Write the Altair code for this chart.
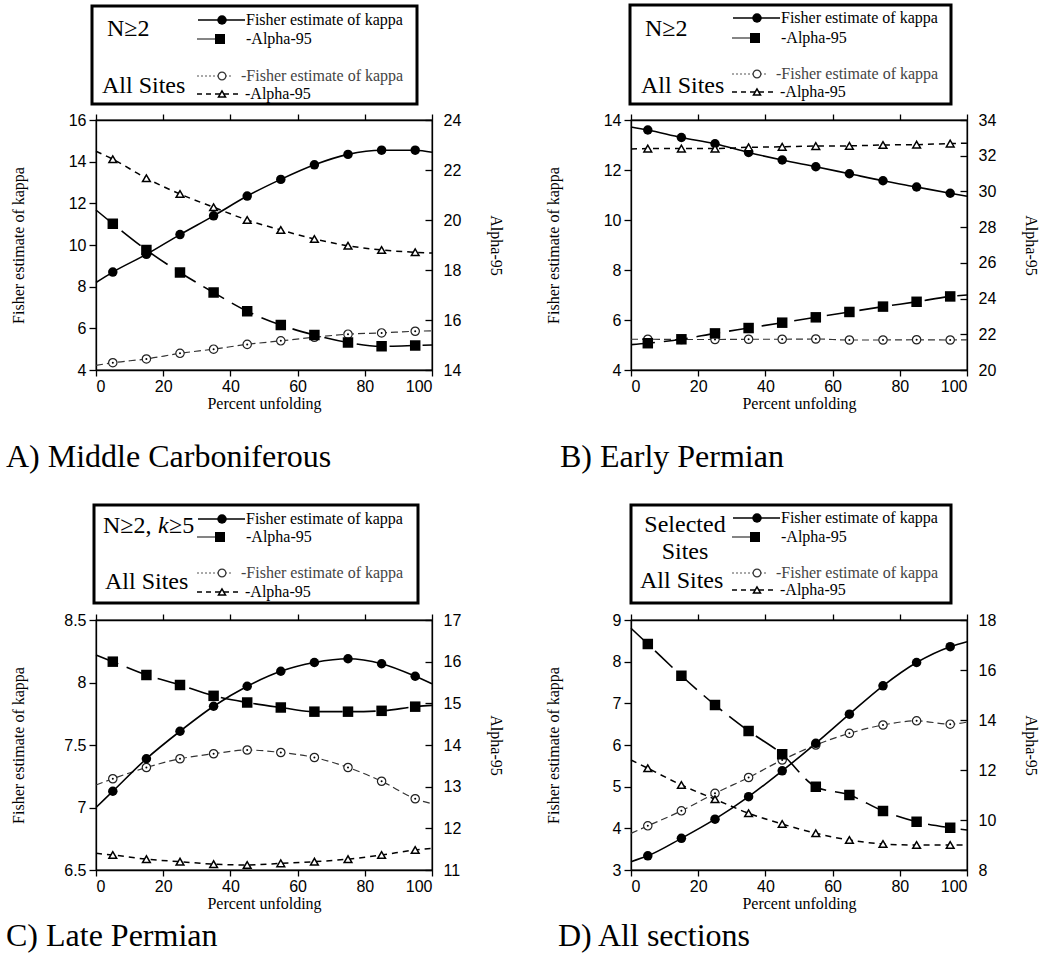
import altair as alt
import pandas as pd

SERIF = "Liberation Serif"
SANS = "Liberation Sans"
W, H = 336, 250

# x positions of the markers and of the line ends
X_PTS = [5, 15, 25, 35, 45, 55, 65, 75, 85, 95]
X_LINE = [0] + X_PTS + [100]
X_TICKS = [0, 20, 40, 60, 80, 100]

# ---- A) Middle Carboniferous ----
A_FISHER_SEL = [8.7, 9.55, 10.5, 11.4, 12.35, 13.15, 13.85, 14.35, 14.55, 14.55]
A_FISHER_SEL_ENDS = [8.2, 14.45]
A_ALPHA_SEL = [19.85, 18.8, 17.9, 17.1, 16.35, 15.8, 15.4, 15.1, 14.95, 14.98]
A_ALPHA_SEL_ENDS = [20.4, 15.0]
A_FISHER_ALL = [4.35, 4.53, 4.8, 5.0, 5.23, 5.4, 5.57, 5.72, 5.78, 5.86]
A_FISHER_ALL_ENDS = [4.22, 5.88]
A_ALPHA_ALL = [22.43, 21.67, 21.04, 20.51, 20.0, 19.6, 19.24, 18.97, 18.8, 18.71]
A_ALPHA_ALL_ENDS = [22.75, 18.68]

# ---- B) Early Permian ----
B_FISHER_SEL = [13.6, 13.3, 13.05, 12.7, 12.4, 12.13, 11.85, 11.57, 11.32, 11.07]
B_FISHER_SEL_ENDS = [13.72, 10.95]
B_ALPHA_SEL = [21.5, 21.72, 22.05, 22.35, 22.65, 22.95, 23.25, 23.55, 23.82, 24.12]
B_ALPHA_SEL_ENDS = [21.42, 24.2]
B_FISHER_ALL = [5.23, 5.22, 5.22, 5.23, 5.23, 5.24, 5.2, 5.2, 5.21, 5.2]
B_FISHER_ALL_ENDS = [5.23, 5.21]
B_ALPHA_ALL = [32.4, 32.4, 32.4, 32.47, 32.5, 32.54, 32.55, 32.6, 32.62, 32.68]
B_ALPHA_ALL_ENDS = [32.38, 32.7]

# ---- C) Late Permian ----
C_FISHER_SEL = [7.13, 7.39, 7.61, 7.81, 7.97, 8.09, 8.16, 8.19, 8.15, 8.05]
C_FISHER_SEL_ENDS = [7.0, 7.99]
C_ALPHA_SEL = [16.0, 15.68, 15.44, 15.18, 15.02, 14.9, 14.8, 14.8, 14.82, 14.92]
C_ALPHA_SEL_ENDS = [16.16, 14.95]
C_FISHER_ALL = [7.23, 7.32, 7.39, 7.43, 7.46, 7.44, 7.4, 7.32, 7.21, 7.07]
C_FISHER_ALL_ENDS = [7.18, 7.03]
C_ALPHA_ALL = [11.36, 11.26, 11.2, 11.14, 11.12, 11.16, 11.2, 11.26, 11.36, 11.48]
C_ALPHA_ALL_ENDS = [11.4, 11.52]

# ---- D) All sections ----
D_FISHER_SEL = [3.34, 3.76, 4.22, 4.76, 5.38, 6.04, 6.74, 7.42, 7.98, 8.36]
D_FISHER_SEL_ENDS = [3.2, 8.48]
D_ALPHA_SEL = [17.04, 15.77, 14.6, 13.56, 12.63, 11.33, 11.0, 10.36, 9.93, 9.69]
D_ALPHA_SEL_ENDS = [17.67, 9.6]
D_FISHER_ALL = [4.06, 4.42, 4.84, 5.22, 5.64, 6.0, 6.28, 6.48, 6.58, 6.5]
D_FISHER_ALL_ENDS = [3.88, 6.55]
D_ALPHA_ALL = [12.07, 11.4, 10.83, 10.27, 9.84, 9.47, 9.2, 9.04, 9.0, 9.0]
D_ALPHA_ALL_ENDS = [12.4, 9.0]

LEGEND_FISHER = "Fisher estimate of kappa"
LEGEND_ALPHA = "-Alpha-95"
LEGEND_FISHER_ALL = "-Fisher estimate of kappa"

PANELS = [
    dict(caption="A) Middle Carboniferous", cap_x=-90, cap_y=347,
         left_dom=[4, 16], left_vals=[4, 6, 8, 10, 12, 14, 16],
         right_dom=[14, 24], right_vals=[14, 16, 18, 20, 22, 24],
         fs=(A_FISHER_SEL, A_FISHER_SEL_ENDS), as_=(A_ALPHA_SEL, A_ALPHA_SEL_ENDS),
         fa=(A_FISHER_ALL, A_FISHER_ALL_ENDS), aa=(A_ALPHA_ALL, A_ALPHA_ALL_ENDS),
         box=(-4, 321, -114, -16), rows=(-100, -81, -44, -26),
         labels=[("N≥2", 11, -84, "left", "normal"), ("All Sites", 6, -27, "left", "normal")]),
    dict(caption="B) Early Permian", cap_x=-71, cap_y=347,
         left_dom=[4, 14], left_vals=[4, 6, 8, 10, 12, 14],
         right_dom=[20, 34], right_vals=[20, 22, 24, 26, 28, 30, 32, 34],
         fs=(B_FISHER_SEL, B_FISHER_SEL_ENDS), as_=(B_ALPHA_SEL, B_ALPHA_SEL_ENDS),
         fa=(B_FISHER_ALL, B_FISHER_ALL_ENDS), aa=(B_ALPHA_ALL, B_ALPHA_ALL_ENDS),
         box=(-1, 320, -115, -16), rows=(-102, -82, -46, -28),
         labels=[("N≥2", 14, -84, "left", "normal"), ("All Sites", 10, -27, "left", "normal")]),
    dict(caption="C) Late Permian", cap_x=-90, cap_y=326,
         left_dom=[6.5, 8.5], left_vals=[6.5, 7, 7.5, 8, 8.5],
         right_dom=[11, 17], right_vals=[11, 12, 13, 14, 15, 16, 17],
         fs=(C_FISHER_SEL, C_FISHER_SEL_ENDS), as_=(C_ALPHA_SEL, C_ALPHA_SEL_ENDS),
         fa=(C_FISHER_ALL, C_FISHER_ALL_ENDS), aa=(C_ALPHA_ALL, C_ALPHA_ALL_ENDS),
         box=(-2, 322, -115, -17), rows=(-101, -83, -47, -28),
         labels=[("N≥2,", 7, -87, "left", "normal"), ("k", 62, -87, "left", "italic"),
                 ("≥5", 73, -87, "left", "normal"), ("All Sites", 9, -31, "left", "normal")]),
    dict(caption="D) All sections", cap_x=-73, cap_y=326,
         left_dom=[3, 9], left_vals=[3, 4, 5, 6, 7, 8, 9],
         right_dom=[8, 18], right_vals=[8, 10, 12, 14, 16, 18],
         fs=(D_FISHER_SEL, D_FISHER_SEL_ENDS), as_=(D_ALPHA_SEL, D_ALPHA_SEL_ENDS),
         fa=(D_FISHER_ALL, D_FISHER_ALL_ENDS), aa=(D_ALPHA_ALL, D_ALPHA_ALL_ENDS),
         box=(0, 320, -115, -17), rows=(-102, -83, -47, -30),
         labels=[("Selected", 54, -88, "center", "normal"), ("Sites", 54, -61, "center", "normal"),
                 ("All Sites", 9, -32, "left", "normal")]),
]


def line_df(vals, ends):
    return pd.DataFrame({"x": X_LINE, "v": [ends[0]] + list(vals) + [ends[1]]})


def pts_df(vals):
    return pd.DataFrame({"x": X_PTS, "v": list(vals)})


DUMMY = pd.DataFrame({"d": [0]})


def make_panel(p):
    xs = alt.Scale(domain=[0, 100], nice=False, zero=False)
    ls = alt.Scale(domain=p["left_dom"], nice=False, zero=False)
    rs = alt.Scale(domain=p["right_dom"], nice=False, zero=False)

    x_bottom = alt.X("x:Q", scale=xs, axis=alt.Axis(
        orient="bottom", values=X_TICKS, format="d", tickSize=6, labelPadding=2,
        labelFont=SANS, labelFontSize=16, labelColor="black",
        title="Percent unfolding", titleFont=SERIF, titleFontSize=16,
        titleFontWeight="normal", titleColor="black",
        titleY=38, titleBaseline="alphabetic", grid=False))
    x_top = alt.X("x:Q", scale=xs, axis=alt.Axis(
        orient="top", values=X_TICKS, labels=False, tickSize=6, title=None, grid=False))

    y_left = alt.Y("v:Q", scale=ls, axis=alt.Axis(
        orient="left", values=p["left_vals"], format="~g", tickSize=7, labelPadding=3,
        labelFont=SANS, labelFontSize=16, labelColor="black",
        title="Fisher estimate of kappa", titleFont=SERIF, titleFontSize=16,
        titleFontWeight="normal", titleColor="black", titleAngle=270,
        titleX=-78, titleY=H / 2, titleAlign="center", titleBaseline="middle", grid=False))
    y_right = alt.Y("v:Q", scale=rs, axis=alt.Axis(
        orient="right", values=p["right_vals"], format="~g", tickSize=0, labelPadding=11,
        labelFont=SANS, labelFontSize=16, labelColor="black",
        title="Alpha-95", titleFont=SERIF, titleFontSize=16,
        titleFontWeight="normal", titleColor="black", titleAngle=90,
        titleX=63, titleY=H / 2, titleAlign="center", titleBaseline="middle", grid=False))
    y_right_ticks = alt.Y("v:Q", scale=rs, axis=alt.Axis(
        orient="left", offset=-W, values=p["right_vals"], labels=False, domain=False,
        tickSize=7, title=None, grid=False))
    y_right_none = alt.Y("v:Q", scale=rs, axis=None)

    fs_vals, fs_ends = p["fs"]
    as_vals, as_ends = p["as_"]
    fa_vals, fa_ends = p["fa"]
    aa_vals, aa_ends = p["aa"]

    left = alt.layer(
        alt.Chart(line_df(fa_vals, fa_ends)).mark_line(
            color="#333333", strokeWidth=1.2, strokeDash=[7, 4], interpolate="monotone"
        ).encode(x=x_bottom, y=y_left),
        alt.Chart(line_df(fs_vals, fs_ends)).mark_line(
            color="black", strokeWidth=1.6, interpolate="monotone"
        ).encode(x=x_bottom, y=y_left),
        alt.Chart(pts_df(fa_vals)).mark_point(
            shape="circle", filled=True, fill="white", stroke="#222222", strokeWidth=1.2,
            size=70, opacity=1
        ).encode(x=x_bottom, y=y_left),
        alt.Chart(pts_df(fa_vals)).mark_circle(color="black", size=4, opacity=1
        ).encode(x=x_bottom, y=y_left),
        alt.Chart(pts_df(fs_vals)).mark_point(
            shape="circle", filled=True, color="black", size=90, opacity=1
        ).encode(x=x_bottom, y=y_left),
    )

    right = alt.layer(
        alt.Chart(line_df(aa_vals, aa_ends)).mark_line(
            color="black", strokeWidth=1.5, strokeDash=[6, 5], interpolate="monotone"
        ).encode(x=x_top, y=y_right),
        alt.Chart(line_df(as_vals, as_ends)).mark_line(
            color="black", strokeWidth=1.6, strokeDash=[24, 9], interpolate="monotone"
        ).encode(x=x_top, y=y_right_none),
        alt.Chart(pts_df(aa_vals)).mark_point(
            shape="triangle-up", filled=True, fill="white", stroke="black", strokeWidth=1.5,
            size=60, opacity=1
        ).encode(x=x_top, y=y_right_none),
        alt.Chart(pts_df(as_vals)).mark_point(
            shape="square", filled=True, color="black", size=110, opacity=1
        ).encode(x=x_top, y=y_right_none),
        alt.Chart(pts_df(as_vals)).mark_point(opacity=0).encode(x=x_top, y=y_right_ticks),
    ).resolve_axis(y="independent")

    # legend box and caption (decoration)
    base = alt.Chart(DUMMY)
    bx1, bx2, by1, by2 = p["box"]
    r1, r2, r3, r4 = p["rows"]
    decor = [
        base.mark_rect(fill="white", stroke="black", strokeWidth=3).encode(
            x=alt.value(bx1), x2=alt.value(bx2), y=alt.value(by1), y2=alt.value(by2)),
        base.mark_rule(color="black", strokeWidth=1.5).encode(
            x=alt.value(102), x2=alt.value(149), y=alt.value(r1)),
        base.mark_rule(color="#333333", strokeWidth=1.2).encode(
            x=alt.value(101), x2=alt.value(124), y=alt.value(r2)),
        base.mark_rule(color="#555555", strokeWidth=1.2, strokeDash=[2, 2]).encode(
            x=alt.value(101), x2=alt.value(136), y=alt.value(r3)),
        base.mark_rule(color="black", strokeWidth=1.5, strokeDash=[5, 4]).encode(
            x=alt.value(101), x2=alt.value(146), y=alt.value(r4)),
        base.mark_point(shape="circle", filled=True, color="black", size=90, opacity=1).encode(
            x=alt.value(126), y=alt.value(r1)),
        base.mark_point(shape="square", filled=True, color="black", size=100, opacity=1).encode(
            x=alt.value(124), y=alt.value(r2)),
        base.mark_point(shape="circle", filled=True, fill="white", stroke="#333333",
                        strokeWidth=1.2, size=60, opacity=1).encode(
            x=alt.value(126), y=alt.value(r3)),
        base.mark_point(shape="triangle-up", filled=True, fill="white", stroke="black",
                        strokeWidth=1.5, size=50, opacity=1).encode(
            x=alt.value(126), y=alt.value(r4)),
        base.mark_text(text=LEGEND_FISHER, font=SERIF, fontSize=16, align="left",
                       baseline="middle", color="black").encode(
            x=alt.value(150), y=alt.value(r1)),
        base.mark_text(text=LEGEND_ALPHA, font=SERIF, fontSize=16, align="left",
                       baseline="middle", color="black").encode(
            x=alt.value(150), y=alt.value(r2)),
        base.mark_text(text=LEGEND_FISHER_ALL, font=SERIF, fontSize=16, align="left",
                       baseline="middle", color="#444444").encode(
            x=alt.value(145), y=alt.value(r3)),
        base.mark_text(text=LEGEND_ALPHA, font=SERIF, fontSize=16, align="left",
                       baseline="middle", color="black").encode(
            x=alt.value(149), y=alt.value(r4)),
        base.mark_text(text=p["caption"], font=SERIF, fontSize=32, align="left",
                       baseline="alphabetic", color="black").encode(
            x=alt.value(p["cap_x"]), y=alt.value(p["cap_y"])),
    ]
    for txt, tx, ty, al, style in p["labels"]:
        decor.append(base.mark_text(text=txt, font=SERIF, fontSize=24, align=al,
                                    baseline="alphabetic", fontStyle=style,
                                    color="black").encode(
            x=alt.value(tx), y=alt.value(ty)))

    return alt.layer(left, right, *decor).resolve_scale(
        y="independent").resolve_axis(x="independent", y="independent").properties(
        width=W, height=H)


panels = [make_panel(p) for p in PANELS]

chart = alt.concat(
    *panels, columns=2, spacing={"row": 250, "column": 199}, bounds="flush"
).properties(
    padding={"left": 5, "top": 2, "right": 5, "bottom": 5},
    background="white",
).configure_view(
    stroke="black", strokeWidth=1.3
).configure_axis(
    domainColor="black", domainWidth=1.3, tickColor="black", tickWidth=1.3
)

chart.save("out.html", embed_options={"renderer": "svg", "actions": False})
